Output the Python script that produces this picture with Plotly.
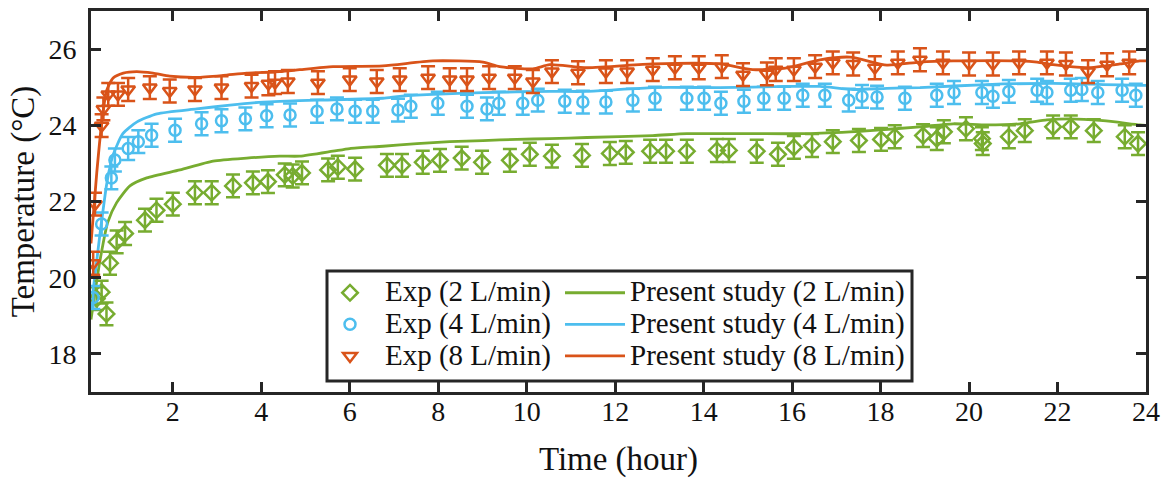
import plotly.graph_objects as go

# ---------------- data ----------------
# Experimental data, 2 L/min
exp2_t = [0.28, 0.39, 0.50, 0.58, 0.73, 0.92, 1.37, 1.63, 2.00, 2.50, 2.88, 3.36, 3.81, 4.15, 4.53, 4.71,
          4.92, 5.51, 5.73, 6.12, 6.84, 7.18, 7.65, 8.04, 8.53, 8.99, 9.62, 10.07, 10.57, 11.25, 11.88,
          12.24, 12.79, 13.15, 13.62, 14.30, 14.57, 15.20, 15.68, 16.04, 16.45, 16.92, 17.51, 18.01,
          18.32, 18.96, 19.27, 19.43, 19.93, 20.29, 20.31, 20.90, 21.26, 21.90, 22.30, 22.82, 23.52, 23.82]
exp2_T = [19.45, 19.62, 19.05, 20.38, 20.94, 21.16, 21.51, 21.77, 21.93, 22.23, 22.23, 22.41, 22.49, 22.52,
          22.70, 22.67, 22.75, 22.83, 22.90, 22.85, 22.95, 22.95, 23.03, 23.08, 23.14, 23.03, 23.08, 23.24,
          23.19, 23.21, 23.26, 23.29, 23.32, 23.32, 23.32, 23.34, 23.34, 23.32, 23.24, 23.42, 23.47, 23.57,
          23.60, 23.63, 23.70, 23.73, 23.65, 23.83, 23.91, 23.65, 23.52, 23.70, 23.86, 23.96, 23.96, 23.86,
          23.70, 23.52]
exp2_err = 0.3

# Experimental data, 4 L/min
exp4_t = [0.20, 0.39, 0.61, 0.69, 0.99, 1.22, 1.52, 2.05, 2.65, 3.10, 3.64, 4.12, 4.65, 5.26, 5.71, 6.12,
          6.52, 7.09, 7.38, 7.99, 8.65, 9.10, 9.37, 9.91, 10.25, 10.86, 11.27, 11.79, 12.40, 12.90, 13.62,
          14.01, 14.39, 14.91, 15.36, 15.82, 16.24, 16.74, 17.28, 17.58, 17.92, 18.55, 19.27, 19.66,
          20.29, 20.54, 20.90, 21.54, 21.76, 22.30, 22.55, 22.91, 23.46, 23.77]
exp4_T = [19.48, 21.41, 22.62, 23.09, 23.39, 23.57, 23.74, 23.87, 24.04, 24.12, 24.17, 24.25, 24.27, 24.37,
          24.43, 24.37, 24.37, 24.40, 24.50, 24.58, 24.50, 24.43, 24.58, 24.58, 24.66, 24.63, 24.61, 24.61,
          24.66, 24.71, 24.71, 24.71, 24.58, 24.63, 24.71, 24.71, 24.79, 24.79, 24.66, 24.76, 24.74, 24.71,
          24.79, 24.86, 24.86, 24.76, 24.89, 24.92, 24.86, 24.92, 24.94, 24.86, 24.92, 24.79]
exp4_err = 0.3

# Experimental data, 8 L/min
exp8_t = [0.20, 0.24, 0.39, 0.43, 0.54, 0.76, 0.99, 1.48, 1.93, 2.50, 3.10, 3.78, 4.16, 4.31, 4.60, 5.28,
          6.00, 6.61, 7.13, 7.77, 8.26, 8.65, 9.15, 9.73, 10.14, 10.57, 11.16, 11.79, 12.27, 12.85, 13.35,
          13.89, 14.41, 14.89, 15.43, 15.63, 16.04, 16.52, 16.92, 17.38, 17.87, 18.39, 18.89, 19.41,
          20.00, 20.54, 21.13, 21.76, 22.19, 22.69, 23.12, 23.62]
exp8_T = [20.38, 21.93, 23.99, 24.43, 24.81, 24.81, 24.94, 24.99, 24.90, 24.94, 24.99, 25.03, 25.09, 25.12,
          25.15, 25.12, 25.20, 25.15, 25.20, 25.25, 25.20, 25.20, 25.25, 25.25, 25.15, 25.41, 25.38, 25.41,
          25.41, 25.46, 25.51, 25.51, 25.54, 25.33, 25.35, 25.46, 25.46, 25.54, 25.64, 25.61, 25.51, 25.64,
          25.72, 25.64, 25.61, 25.61, 25.64, 25.64, 25.61, 25.41, 25.59, 25.64]
exp8_err = 0.3

# Present study (model) curves
sim2_t = [0.15, 0.35, 0.53, 0.73, 1.03, 1.41, 2.16, 2.91, 3.67, 4.42, 4.87, 5.62, 6.00, 6.75, 7.52, 8.26,
          9.01, 9.78, 10.52, 11.36, 12.85, 13.62, 15.11, 16.24, 17.31, 17.76, 18.89, 19.64, 20.40, 21.15,
          21.76, 22.28, 23.03, 23.86, 24.0]
sim2_T = [18.9, 20.43, 21.46, 21.97, 22.41, 22.62, 22.83, 23.06, 23.14, 23.19, 23.19, 23.32, 23.39, 23.45,
          23.52, 23.57, 23.60, 23.63, 23.65, 23.68, 23.73, 23.78, 23.78, 23.78, 23.83, 23.86, 23.96, 24.04,
          24.01, 24.04, 24.14, 24.17, 24.12, 24.01, 24.0]

sim4_t = [0.15, 0.35, 0.51, 0.64, 0.87, 1.19, 1.64, 2.54, 3.29, 4.04, 4.42, 5.26, 6.75, 7.13, 7.88, 9.01,
          10.52, 11.36, 12.85, 14.37, 15.88, 16.63, 17.38, 18.14, 18.89, 20.40, 21.90, 23.03, 23.86, 24.0]
sim4_T = [19.2, 21.12, 22.49, 23.19, 23.78, 24.09, 24.30, 24.43, 24.53, 24.61, 24.63, 24.66, 24.71, 24.76,
          24.81, 24.86, 24.89, 24.89, 24.99, 24.99, 25.02, 25.02, 24.94, 24.97, 24.99, 25.07, 25.10, 25.07,
          25.05, 25.05]

sim8_t = [0.15, 0.28, 0.39, 0.50, 0.65, 0.88, 1.18, 1.55, 1.93, 2.54, 3.14, 3.67, 4.42, 4.87, 5.62, 6.75,
          7.88, 9.01, 9.39, 10.14, 10.52, 11.36, 12.85, 14.37, 15.11, 15.88, 16.63, 17.31, 18.14, 18.89,
          19.64, 21.15, 21.54, 21.90, 22.66, 23.41, 23.86, 24.0]
sim8_T = [20.9, 22.75, 24.04, 24.90, 25.24, 25.37, 25.41, 25.37, 25.29, 25.26, 25.31, 25.37, 25.41, 25.46,
          25.54, 25.56, 25.69, 25.66, 25.54, 25.48, 25.59, 25.51, 25.61, 25.61, 25.46, 25.51, 25.72, 25.79,
          25.58, 25.66, 25.69, 25.69, 25.66, 25.59, 25.51, 25.61, 25.69, 25.69]

x_ticks = [2, 4, 6, 8, 10, 12, 14, 16, 18, 20, 22, 24]
y_ticks = [18, 20, 22, 24, 26]

GREEN = "#77AC30"
BLUE = "#4DBEEE"
RED = "#D95319"
AXC = "#262626"
TXT = "#111111"
FONT = "Liberation Serif"
LEG_TXT = 29  # visual size of legend text

fig = go.Figure()


def lab(s):
    return f'<span style="font-size:{LEG_TXT}px">{s}</span>'


def exp_trace(t, T, err, color, symbol, size, name):
    return go.Scatter(
        x=t, y=T, mode="markers", name=lab(name), legend="legend",
        marker=dict(symbol=symbol, size=size, color=color, line=dict(color=color, width=2.5)),
        error_y=dict(type="constant", value=err, color=color, thickness=2.5, width=7),
    )


def sim_trace(t, T, color, name):
    return go.Scatter(
        x=t, y=T, mode="lines", name=lab(name), legend="legend2",
        line=dict(color=color, width=2.8, shape="spline", smoothing=0.6),
    )


fig.add_trace(sim_trace(sim2_t, sim2_T, GREEN, "Present study (2 L/min)"))
fig.add_trace(sim_trace(sim4_t, sim4_T, BLUE, "Present study (4 L/min)"))
fig.add_trace(sim_trace(sim8_t, sim8_T, RED, "Present study (8 L/min)"))
fig.add_trace(exp_trace(exp2_t, exp2_T, exp2_err, GREEN, "diamond-open", 12, "Exp (2 L/min)"))
fig.add_trace(exp_trace(exp4_t, exp4_T, exp4_err, BLUE, "circle-open", 11, "Exp (4 L/min)"))
fig.add_trace(exp_trace(exp8_t, exp8_T, exp8_err, RED, "triangle-down-open", 12, "Exp (8 L/min)"))

L, R, T, B = 91, 27, 8, 90
W, H = 1173, 482
pw = W - L - R
ph = H - T - B


def px2paper_x(px):
    return (px - L) / pw


def px2paper_y(py):
    return (H - B - py) / ph


# legend frame
fig.add_shape(type="rect", xref="paper", yref="paper",
              x0=px2paper_x(327), x1=px2paper_x(912), y0=px2paper_y(381), y1=px2paper_y(270),
              line=dict(color=AXC, width=3), fillcolor="white", layer="above")

leg_common = dict(xanchor="left", yanchor="top", bgcolor="rgba(0,0,0,0)", borderwidth=0,
                  font=dict(size=22, family=FONT, color=TXT), itemwidth=60, tracegroupgap=0,
                  traceorder="normal")

fig.update_layout(
    width=W, height=H,
    margin=dict(l=L, r=R, t=T, b=B),
    paper_bgcolor="white", plot_bgcolor="white",
    font=dict(family=FONT, color=TXT, size=24),
    legend=dict(x=px2paper_x(315), y=px2paper_y(271), **leg_common),
    legend2=dict(x=px2paper_x(560), y=px2paper_y(271), **leg_common),
    xaxis=dict(range=[0.15, 24], tickvals=x_ticks, ticks="inside", ticklen=10, tickwidth=2.5,
               tickcolor=AXC, showline=True, linecolor=AXC, linewidth=3, mirror="allticks",
               showgrid=False, zeroline=False, tickfont=dict(size=28, family=FONT, color=TXT),
               ticklabelstandoff=-8,
               title=dict(text="Time (hour)", font=dict(size=33, family=FONT, color=TXT), standoff=22)),
    yaxis=dict(range=[17, 27], tickvals=y_ticks, ticks="inside", ticklen=10, tickwidth=2.5,
               tickcolor=AXC, showline=True, linecolor=AXC, linewidth=3, mirror="allticks",
               showgrid=False, zeroline=False, tickfont=dict(size=28, family=FONT, color=TXT),
               ticklabelstandoff=6,
               title=dict(text="Temperature (°C)", font=dict(size=33, family=FONT, color=TXT), standoff=4)),
)

fig.write_html("out.html")
